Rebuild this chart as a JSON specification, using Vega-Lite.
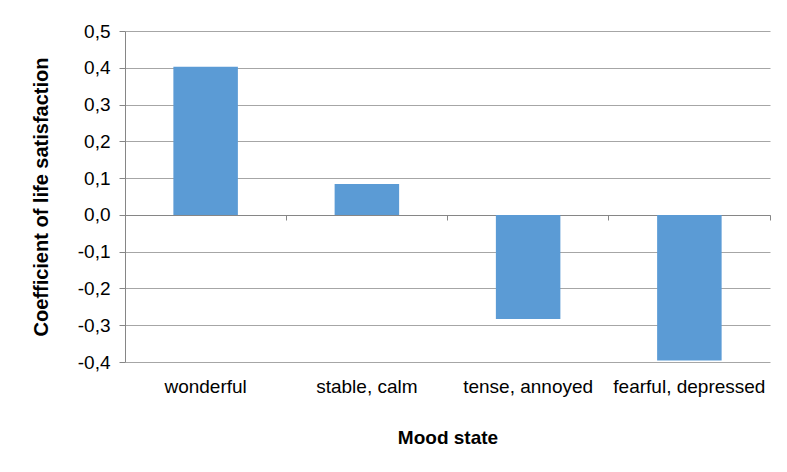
{
  "$schema": "https://vega.github.io/schema/vega-lite/v6.json",
  "autosize": "none",
  "width": 645,
  "height": 331,
  "padding": {"left": 125, "top": 31, "right": 17, "bottom": 110},
  "background": "white",
  "config": {
    "locale": {"number": {"decimal": ",", "thousands": ".", "grouping": [3], "currency": ["", " €"], "minus": "-"}},
    "view": {"stroke": null},
    "font": "Liberation Sans"
  },
  "data": {
    "values": [
      {"mood": "wonderful", "coef": 0.403},
      {"mood": "stable, calm", "coef": 0.084},
      {"mood": "tense, annoyed", "coef": -0.283},
      {"mood": "fearful, depressed", "coef": -0.396}
    ]
  },
  "resolve": {"axis": {"x": "independent"}},
  "layer": [
    {
      "mark": {"type": "bar", "color": "#5B9BD5"},
      "encoding": {
        "x": {
          "field": "mood", "type": "nominal", "sort": null,
          "scale": {"paddingInner": 0.6, "paddingOuter": 0.3},
          "axis": {
            "domain": false, "ticks": false, "grid": false,
            "labelFontSize": 19, "labelColor": "#000000", "labelPadding": 15, "labelAngle": 0,
            "title": "Mood state", "titleFontSize": 19, "titleFontWeight": "bold", "titleColor": "#000000", "titlePadding": 32
          }
        },
        "y": {
          "field": "coef", "type": "quantitative",
          "scale": {"domain": [-0.4, 0.5], "nice": false, "zero": false},
          "axis": {
            "values": [-0.4, -0.3, -0.2, -0.1, 0, 0.1, 0.2, 0.3, 0.4, 0.5],
            "format": ".1f",
            "labelOverlap": false,
            "domainColor": "#868686", "tickColor": "#868686", "tickSize": 6,
            "gridColor": "#A6A6A6", "grid": true,
            "labelFontSize": 19, "labelColor": "#000000", "labelPadding": 9,
            "title": "Coefficient of life satisfaction", "titleFontSize": 20, "titleFontWeight": "bold", "titleColor": "#000000", "titlePadding": 26
          }
        }
      }
    },
    {
      "mark": {"type": "bar", "opacity": 0},
      "encoding": {
        "x": {
          "field": "mood", "type": "nominal", "sort": null,
          "axis": {
            "orient": "bottom", "offset": -147, "labels": false, "title": null,
            "domain": true, "domainColor": "#868686", "ticks": true, "tickColor": "#868686", "tickSize": 5,
            "bandPosition": 1.75, "grid": false
          }
        }
      }
    }
  ]
}
